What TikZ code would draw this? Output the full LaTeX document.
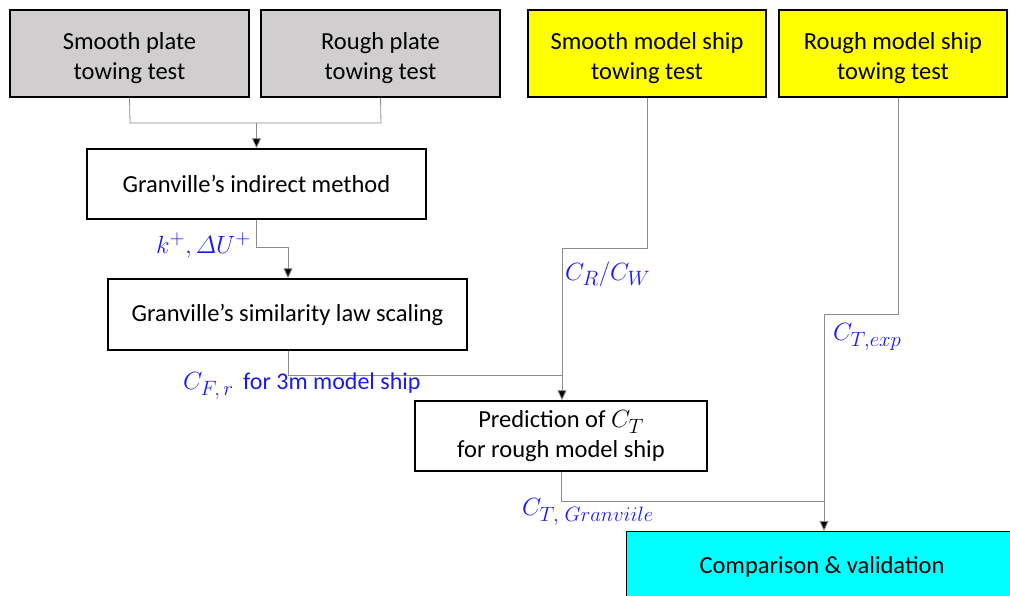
\documentclass[tikz,border=0pt]{standalone}
\usepackage{amsmath}
\usepackage{fontspec}
\setmainfont{Carlito}
\usetikzlibrary{arrows.meta}
\DeclareMathSizes{28}{28}{22}{17}
\definecolor{boxgray}{HTML}{D0CECE}
\definecolor{boxyellow}{HTML}{FFFF00}
\definecolor{boxcyan}{HTML}{00FFFF}
\definecolor{lab}{HTML}{1A1AF0}
\definecolor{conn}{HTML}{8C8C8C}
\newcommand{\lgmath}[1]{{\fontsize{28}{30}\selectfont$#1$}}
\newcommand{\topstrut}{\rule{0pt}{27pt}}
\tikzset{
  box/.style={draw=black, line width=1.4pt, inner sep=0pt, align=center, font=\fontsize{24.5}{30}\selectfont},
  conline/.style={draw=conn, line width=0.8pt},
  arr/.style={conline, -{Triangle[length=10pt,width=9pt,fill=black]}},
  lbl/.style={text=lab, inner sep=0pt, font=\fontsize{24}{28}\selectfont}
}
\begin{document}
\begin{tikzpicture}[x=1pt,y=-1pt]
\useasboundingbox (0,0) rectangle (1010,595);
\begin{scope}
\clip (0,0) rectangle (1010,595);
% boxes
\node[box, fill=boxgray, minimum width=239pt, minimum height=87pt] (sp) at (129.5,53.5) {\topstrut Smooth plate\\towing test};
\node[box, fill=boxgray, minimum width=239pt, minimum height=87pt] (rp) at (380.5,53.5) {\topstrut Rough plate\\towing test};
\node[box, fill=boxyellow, minimum width=238pt, minimum height=87pt] (sm) at (647,53.5) {\topstrut Smooth model ship\\towing test};
\node[box, fill=boxyellow, minimum width=228pt, minimum height=87pt] (rm) at (893,53.5) {\topstrut Rough model ship\\towing test};
\node[box, minimum width=339pt, minimum height=70pt] (gi) at (256.5,184) {Granville’s indirect method};
\node[box, minimum width=359pt, minimum height=71pt] (gs) at (287.5,314.5) {Granville’s similarity law scaling};
\node[box, minimum width=292pt, minimum height=70pt] (pr) at (561,436) {Prediction of \lgmath{C_T}\\for rough model ship};
\node[box, fill=boxcyan, minimum width=392pt, minimum height=80pt, anchor=north west] (cv) at (626,531) {};
\node[font=\fontsize{24.5}{30}\selectfont, anchor=center] (cvt) at (822,567) {Comparison \& validation};
\end{scope}
% coordinates
\coordinate (j1) at (256.5,123);
\coordinate (a1) at (130,123);
\coordinate (a2) at (381,123);
\coordinate (b1) at (256.5,247);
\coordinate (b2) at (288,247);
\coordinate (c1) at (647,248);
\coordinate (c2) at (562,248);
\coordinate (d1) at (288,375);
\coordinate (d2) at (562,375);
\coordinate (e1) at (898,314);
\coordinate (e2) at (824,314);
\coordinate (f1) at (561,501);
\coordinate (f2) at (824,501);
% connectors
\draw[conline] (sp.south) -- (a1) -- (a2) -- (rp.south);
\draw[arr] (j1) -- (gi.north);
\draw[conline] (gi.south) -- (b1) -- (b2);
\draw[arr] (b2) -- (gs.north -| b2);
\draw[conline] (sm.south -| c1) -- (c1) -- (c2);
\draw[arr] (c2) -- (pr.north -| c2);
\draw[conline] (gs.south -| d1) -- (d1) -- (d2);
\draw[conline] (rm.south -| e1) -- (e1) -- (e2);
\draw[arr] (e2) -- (cv.north -| e2);
\draw[conline] (pr.south -| f1) -- (f1) -- (f2);
% labels
\node[lbl, anchor=east] (l1) at (251,246) {\lgmath{k^+,\varDelta U^+}};
\node[lbl, anchor=west] (l2) at (565,274) {\lgmath{C_R/C_W}};
\node[lbl, anchor=west] (l3) at (183,386) {\lgmath{C_{F,\,r}}\hspace{4pt} for 3m model ship};
\node[lbl, anchor=west] (l4) at (833,337) {\lgmath{C_{T,exp}}};
\node[lbl, anchor=west] (l5) at (522,512) {\lgmath{C_{T,\;Granviile}}};
\end{tikzpicture}
\end{document}
